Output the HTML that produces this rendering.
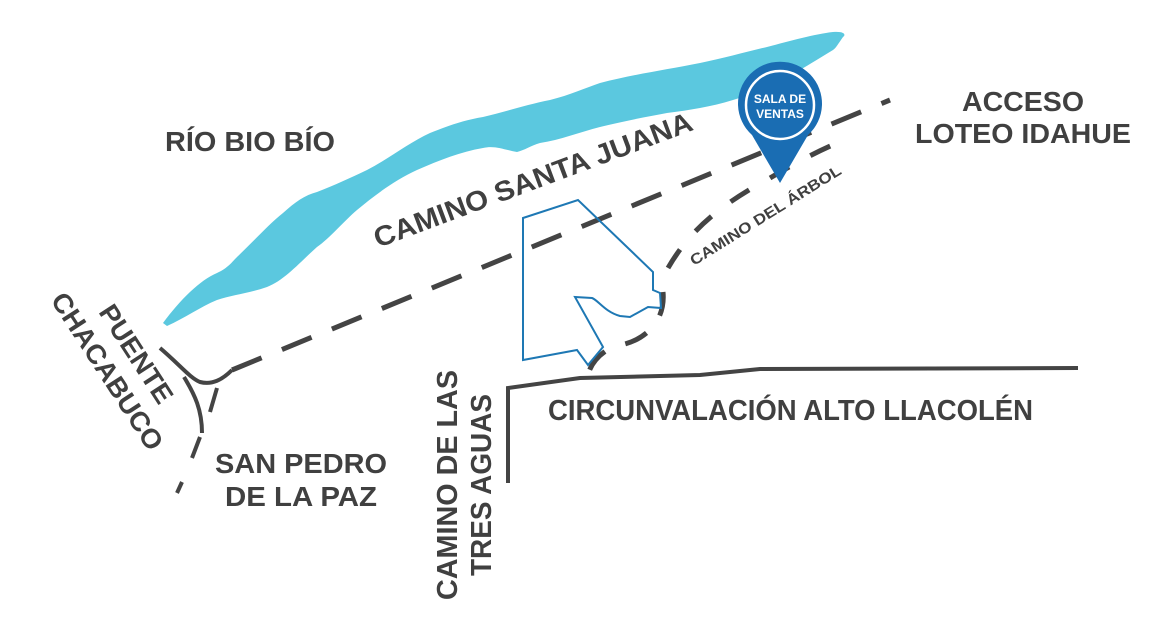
<!DOCTYPE html>
<html><head><meta charset="utf-8"><style>
html,body{margin:0;padding:0;background:#fff;}
svg{display:block;}
text{font-family:"Liberation Sans",sans-serif;font-weight:bold;fill:#404040;}
</style></head><body>
<svg width="1170" height="629" viewBox="0 0 1170 629" xmlns="http://www.w3.org/2000/svg">
<!-- river -->
<path d="M163,323 C180,300 200,280 217,273 C228,268 232,262 237,257 C255,240 268,225 283,213 C295,202 305,195 317,192 C335,185 350,178 367,170 C390,158 410,142 430,133 C450,125 465,120 483,117 C505,112 525,105 550,100 C570,95 585,88 600,83 C635,74 665,70 700,63 C725,58 745,52 767,47 C790,41 815,34 833,32 C845,31 846,35 843,37 C838,44 836,48 833,50 C820,58 810,64 800,70 C780,82 760,92 733,100 C710,107 690,110 667,113 C645,117 620,122 600,127 C580,132 560,140 540,143 C530,146 525,150 517,152 C505,150 495,145 483,148 C460,152 440,160 417,170 C395,180 375,195 357,210 C343,222 330,238 317,247 C300,262 285,280 267,287 C250,293 232,295 217,300 C200,307 185,318 167,326 Z" fill="#5bc8df"/>
<!-- main dashed road -->
<path d="M232,370 L890,100" stroke="#444" stroke-width="5" fill="none" stroke-dasharray="32,22"/>
<!-- camino del arbol -->
<path d="M668,268 C690,230 720,205 770,178 C800,160 830,145 850,138" stroke="#444" stroke-width="5" fill="none" stroke-dasharray="22,24"/>
<!-- lower curve -->
<path d="M663,292 C666,325 640,343 615,346 C600,352 590,365 588,375" stroke="#444" stroke-width="5" fill="none" stroke-dasharray="24,22"/>
<!-- junction -->
<path d="M160,348 C180,365 190,378 200,382 C212,385 222,380 232,370" stroke="#444" stroke-width="4" fill="none"/>
<path d="M184,377 C195,395 202,410 202,433" stroke="#444" stroke-width="4" fill="none"/>
<path d="M217,388 L210,412 M200,437 L192,458 M182,482 L177,493" stroke="#444" stroke-width="4" fill="none"/>
<!-- plot outline -->
<path d="M523,218 L578,200 L653,272 L653,290 L660,293 L661,308 L648,307 L630,317 L620,316 C605,312 598,300 592,298 L575,297 L603,347 L588,365 L577,350 L523,360 Z" stroke="#1e78b4" stroke-width="2" fill="none"/>
<!-- circunvalacion -->
<path d="M508,483 L508,388 L580,378 L700,375 L760,369 L1078,368" stroke="#444" stroke-width="4" fill="none"/>
<!-- pin -->
<path d="M780,183 L752,135 A42,42 0 1 1 808,135 Z" fill="#1a6db3"/>
<circle cx="780" cy="105" r="34" fill="none" stroke="#fff" stroke-width="2.5"/>
<text x="780" y="103" text-anchor="middle" font-size="12" style="fill:#fff">SALA DE</text>
<text x="780" y="118" text-anchor="middle" font-size="12" style="fill:#fff">VENTAS</text>
<!-- labels -->
<text x="165" y="151" font-size="28" textLength="170" lengthAdjust="spacingAndGlyphs">RÍO BIO BÍO</text>
<text x="1023" y="111" font-size="28" text-anchor="middle" textLength="122" lengthAdjust="spacingAndGlyphs">ACCESO</text>
<text x="1023" y="143" font-size="28" text-anchor="middle" textLength="216" lengthAdjust="spacingAndGlyphs">LOTEO IDAHUE</text>
<text transform="translate(378,248) rotate(-20.5)" font-size="28" textLength="338" lengthAdjust="spacingAndGlyphs">CAMINO SANTA JUANA</text>
<text transform="translate(694,266) rotate(-32)" font-size="15" textLength="175" lengthAdjust="spacingAndGlyphs">CAMINO DEL ÁRBOL</text>
<text transform="translate(98,312) rotate(57)" font-size="27" textLength="112" lengthAdjust="spacingAndGlyphs">PUENTE</text>
<text transform="translate(50,300) rotate(57)" font-size="27" textLength="182" lengthAdjust="spacingAndGlyphs">CHACABUCO</text>
<text x="215" y="473" font-size="28" textLength="172" lengthAdjust="spacingAndGlyphs">SAN PEDRO</text>
<text x="225" y="506" font-size="28" textLength="152" lengthAdjust="spacingAndGlyphs">DE LA PAZ</text>
<text x="548" y="420" font-size="29" textLength="485" lengthAdjust="spacingAndGlyphs">CIRCUNVALACIÓN ALTO LLACOLÉN</text>
<text transform="translate(457,600) rotate(-90)" font-size="29" textLength="230" lengthAdjust="spacingAndGlyphs">CAMINO DE LAS</text>
<text transform="translate(491,576) rotate(-90)" font-size="29" textLength="182" lengthAdjust="spacingAndGlyphs">TRES AGUAS</text>
</svg>
</body></html>
